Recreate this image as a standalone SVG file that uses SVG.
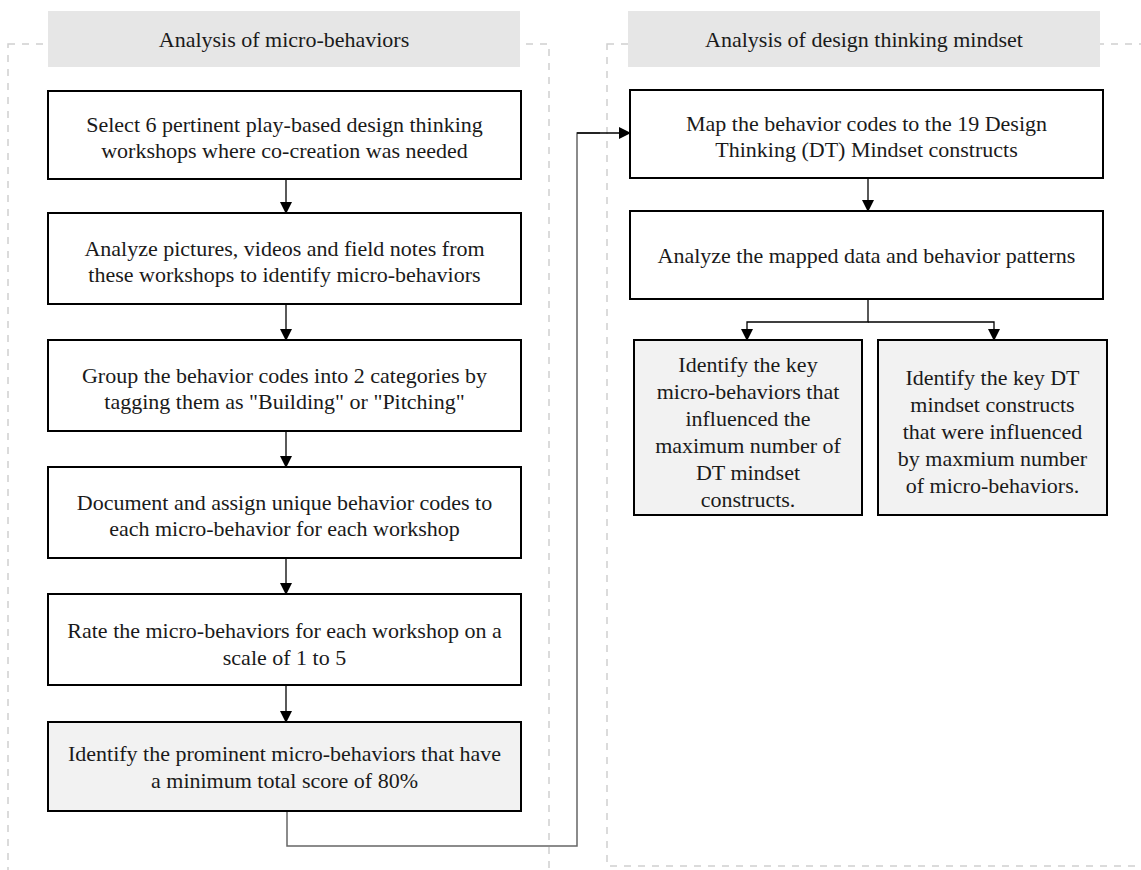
<svg xmlns="http://www.w3.org/2000/svg" width="1141" height="870" viewBox="0 0 1141 870">
<defs>
<marker id="ah" markerWidth="12" markerHeight="12" refX="11" refY="6" orient="auto" markerUnits="userSpaceOnUse">
<path d="M0,0 L12,6 L0,12 Z" fill="#000"/>
</marker>
<style>
.sec{fill:none;stroke:#d0d0d0;stroke-width:1.5;stroke-dasharray:7,7}
.hdr{fill:#e6e6e6;stroke:none}
.box{fill:#fff;stroke:#000;stroke-width:2}
.gbox{fill:#f2f2f2;stroke:#000;stroke-width:2}
.t{font-family:"Liberation Serif","Times New Roman",serif;font-size:22px;fill:#1a1a1a;text-anchor:middle}
.c{fill:none;stroke:#000;stroke-width:1.3}
.cg{fill:none;stroke:#666;stroke-width:1.5}
</style>
</defs>
<rect width="1141" height="870" fill="#fff"/>
<g id="section-left">
<rect class="sec" x="8" y="44" width="541" height="840"/>
<rect class="hdr" x="48" y="11" width="472" height="56"/>
<text class="t" x="284" y="47">Analysis of micro-behaviors</text>
</g>
<g id="section-right">
<rect class="sec" x="607" y="44" width="560" height="822"/>
<rect class="hdr" x="628" y="11" width="472" height="56"/>
<text class="t" x="864" y="47">Analysis of design thinking mindset</text>
</g>
<g id="connectors">
<line class="c" x1="286" y1="179" x2="286" y2="213" marker-end="url(#ah)"/>
<line class="c" x1="286" y1="304" x2="286" y2="340" marker-end="url(#ah)"/>
<line class="c" x1="286" y1="431" x2="286" y2="467" marker-end="url(#ah)"/>
<line class="c" x1="286" y1="558" x2="286" y2="594" marker-end="url(#ah)"/>
<line class="c" x1="286" y1="685" x2="286" y2="722" marker-end="url(#ah)"/>
<polyline class="cg" points="287,811 287,846 577,846 577,133 600,133"/>
<line class="c" x1="577" y1="133" x2="630" y2="133" marker-end="url(#ah)"/>
<line class="c" x1="868" y1="178" x2="868" y2="211" marker-end="url(#ah)"/>
<polyline class="c" points="868,299 868,322 747,322 747,340" marker-end="url(#ah)"/>
<polyline class="c" points="868,322 994,322 994,340" marker-end="url(#ah)"/>
</g>
<g id="n1">
<rect class="box" x="48" y="91" width="473" height="88"/>
<text class="t" x="284.5" y="132">Select 6 pertinent play-based design thinking</text>
<text class="t" x="284.5" y="158">workshops where co-creation was needed</text>
</g>
<g id="n2">
<rect class="box" x="48" y="213" width="473" height="91"/>
<text class="t" x="284.5" y="256">Analyze pictures, videos and field notes from</text>
<text class="t" x="284.5" y="282">these workshops to identify micro-behaviors</text>
</g>
<g id="n3">
<rect class="box" x="48" y="340" width="473" height="91"/>
<text class="t" x="284.5" y="383">Group the behavior codes into 2 categories by</text>
<text class="t" x="284.5" y="409">tagging them as "Building" or "Pitching"</text>
</g>
<g id="n4">
<rect class="box" x="48" y="467" width="473" height="91"/>
<text class="t" x="284.5" y="510">Document and assign unique behavior codes to</text>
<text class="t" x="284.5" y="536">each micro-behavior for each workshop</text>
</g>
<g id="n5">
<rect class="box" x="48" y="594" width="473" height="91"/>
<text class="t" x="284.5" y="638">Rate the micro-behaviors for each workshop on a</text>
<text class="t" x="284.5" y="665">scale of 1 to 5</text>
</g>
<g id="n6">
<rect class="gbox" x="48" y="722" width="473" height="89"/>
<text class="t" x="284.5" y="761">Identify the prominent micro-behaviors that have</text>
<text class="t" x="284.5" y="788">a minimum total score of 80%</text>
</g>
<g id="r1">
<rect class="box" x="630" y="90" width="473" height="88"/>
<text class="t" x="866.5" y="131">Map the behavior codes to the 19 Design</text>
<text class="t" x="866.5" y="157">Thinking (DT) Mindset constructs</text>
</g>
<g id="r2">
<rect class="box" x="630" y="211" width="473" height="88"/>
<text class="t" x="866.5" y="263">Analyze the mapped data and behavior patterns</text>
</g>
<g id="r3">
<rect class="gbox" x="634" y="340" width="228" height="175"/>
<text class="t" x="748" y="372">Identify the key</text>
<text class="t" x="748" y="399">micro-behaviors that</text>
<text class="t" x="748" y="426">influenced the</text>
<text class="t" x="748" y="453">maximum number of</text>
<text class="t" x="748" y="480">DT mindset</text>
<text class="t" x="748" y="507">constructs.</text>
</g>
<g id="r4">
<rect class="gbox" x="878" y="340" width="229" height="175"/>
<text class="t" x="992.5" y="385">Identify the key DT</text>
<text class="t" x="992.5" y="412">mindset constructs</text>
<text class="t" x="992.5" y="439">that were influenced</text>
<text class="t" x="992.5" y="466">by maxmium number</text>
<text class="t" x="992.5" y="493">of micro-behaviors.</text>
</g>
</svg>
